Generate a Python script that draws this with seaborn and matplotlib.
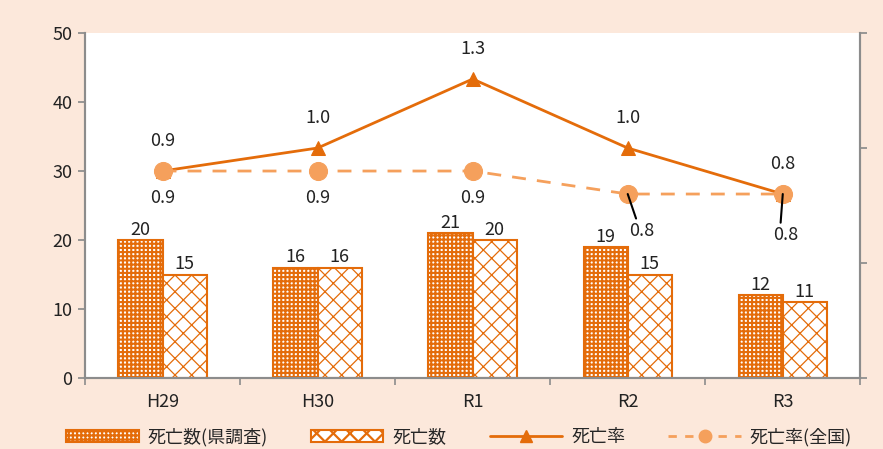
import pandas as pd
import numpy as np
import matplotlib.pyplot as plt
import seaborn as sns
from matplotlib.patches import Patch
from matplotlib.lines import Line2D

sns.set_theme(style="white")
plt.rcParams['font.family'] = ['Noto Sans CJK JP', 'DejaVu Sans']
plt.rcParams['hatch.linewidth'] = 1.6

# data
years = ["H29", "H30", "R1", "R2", "R3"]
deaths_pref = [20, 16, 21, 19, 12]      # 死亡数(県調査)
deaths = [15, 16, 20, 15, 11]           # 死亡数
rate = [0.9, 1.0, 1.3, 1.0, 0.8]        # 死亡率
rate_nat = [0.9, 0.9, 0.9, 0.8, 0.8]    # 死亡率(全国)

dark = "#E46C0A"
light = "#F5A05C"
bg = "#FCE8DB"
grey = "#8C8C8C"
txt = "#222222"

df = pd.DataFrame({
    "year": years * 2,
    "value": deaths_pref + deaths,
    "series": ["死亡数(県調査)"] * 5 + ["死亡数"] * 5,
})

fig = plt.figure(figsize=(8.83, 4.49), dpi=100, facecolor=bg)
ax = fig.add_axes([0.0963, 0.158, 0.878, 0.7685])
ax.set_facecolor("white")

sns.barplot(data=df, x="year", y="value", hue="series", order=years,
            palette=["white", "white"], width=0.57, gap=0, legend=False, ax=ax)

hatches = ["++++", "xx"]
hatch_lw = [1.5, 0.9]
for cont, h, hl in zip(ax.containers, hatches, hatch_lw):
    for bar in cont:
        bar.set_hatch(h)
        bar.set_edgecolor(dark)
        bar.set_linewidth(1.5)
        if hasattr(bar, "set_hatch_linewidth"):
            bar.set_hatch_linewidth(hl)
    ax.bar_label(cont, fontsize=13, padding=1, color=txt)

ax.set_ylim(0, 50)
ax.set_yticks(range(0, 51, 10))
ax.set_xlim(-0.5, 4.5)
ax.set_xlabel("")
ax.set_ylabel("")

# secondary axis for rates
ax2 = ax.twinx()
sns.lineplot(x=years, y=rate, ax=ax2, color=dark, linewidth=2, marker="^",
             markersize=10, markeredgecolor=dark, sort=False)
sns.lineplot(x=years, y=rate_nat, ax=ax2, color=light, linewidth=2,
             linestyle=(0, (5, 4)), marker="o", markersize=13,
             markeredgecolor=light, sort=False)
ax2.set_ylim(0, 1.5)
ax2.set_yticks([0, 0.5, 1.0, 1.5])
ax2.set_yticklabels([])
ax2.set_xlim(-0.5, 4.5)

for i, v in enumerate(rate):
    ax2.annotate(f"{v:.1f}", (i, v), xytext=(0, 15), textcoords="offset points",
                 ha="center", va="bottom", fontsize=13, color=txt)

nat_offsets = [(0, -13), (0, -13), (0, -13), (10, -20), (2, -23)]
for i, (v, off) in enumerate(zip(rate_nat, nat_offsets)):
    if i >= 3:
        ax2.annotate(f"{v:.1f}", (i, v), xytext=off, textcoords="offset points",
                     ha="center", va="top", fontsize=13, color=txt,
                     arrowprops=dict(arrowstyle="-", color="black", lw=1.5,
                                     shrinkA=0, shrinkB=0,
                                     relpos=(0.3, 1.1)))
    else:
        ax2.annotate(f"{v:.1f}", (i, v), xytext=off, textcoords="offset points",
                     ha="center", va="top", fontsize=13, color=txt)

# spines and ticks
for a in (ax, ax2):
    a.spines["top"].set_visible(False)
    for s in ("left", "right", "bottom"):
        a.spines[s].set_color(grey)
        a.spines[s].set_linewidth(1.5)
    a.grid(False)

ax.tick_params(axis="y", direction="out", length=5, color=grey, left=True,
               labelsize=13, pad=4, labelcolor=txt)
ax2.tick_params(axis="y", direction="out", length=5, color=grey, right=True)
ax.set_xticks(np.arange(-0.5, 5, 1), minor=True)
ax.tick_params(axis="x", which="major", length=0, labelsize=13, pad=11,
               labelcolor=txt)
ax.tick_params(axis="x", which="minor", direction="out", length=5,
               color=grey, width=1.2, bottom=True)
ax2.tick_params(axis="x", length=0)

# legend
leg_patches = []
for h, hl in zip(hatches, hatch_lw):
    p = Patch(facecolor="white", edgecolor=dark, hatch=h, linewidth=1.5)
    if hasattr(p, "set_hatch_linewidth"):
        p.set_hatch_linewidth(hl)
    leg_patches.append(p)
handles = leg_patches + [
    Line2D([], [], color=dark, lw=2, marker="^", markersize=8),
    Line2D([], [], color=light, lw=2, linestyle=(0, (3, 3)), marker="o",
           markersize=9),
]
labels = ["死亡数(県調査)", "死亡数", "死亡率", "死亡率(全国)"]
fig.legend(handles, labels, loc="lower center", bbox_to_anchor=(0.52, -0.03),
           ncol=4, frameon=False, fontsize=13, handlelength=4.0,
           handleheight=0.6, columnspacing=2.4, handletextpad=0.5)

fig.savefig("out.png", dpi=100, facecolor=bg)
